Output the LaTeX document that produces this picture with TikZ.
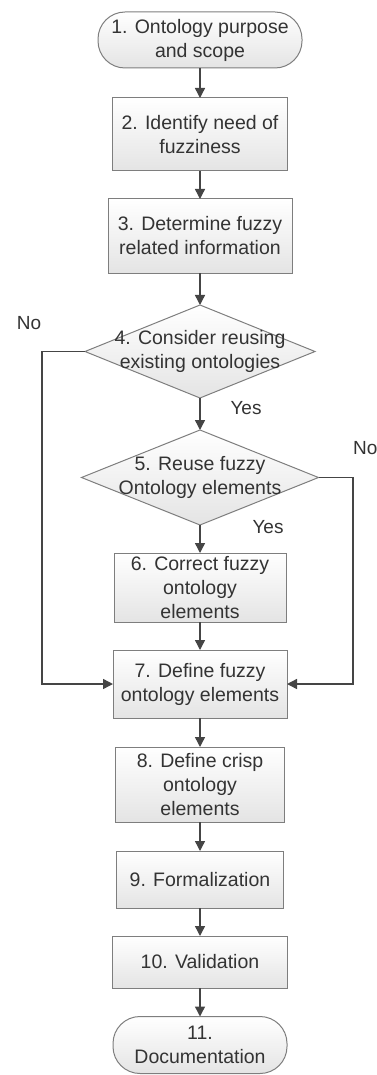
\documentclass[tikz,border=0pt]{standalone}
\usepackage{fontspec}
\setmainfont{Liberation Sans}
\usetikzlibrary{shapes.geometric,arrows.meta}
\definecolor{bordc}{HTML}{7E7E7E}
\definecolor{fillb}{HTML}{E4E4E4}
\definecolor{txtc}{HTML}{333333}
\definecolor{arrc}{HTML}{454545}
\tikzset{
  base/.style={draw=bordc, line width=1pt, top color=white, bottom color=fillb, inner sep=0pt, outer sep=0pt},
  stepbox/.style={base, rectangle},
  term/.style={base, rectangle, rounded corners=27pt},
  dia/.style={base, diamond},
  txt/.style={text=txtc, font=\fontsize{19.5pt}{24pt}\selectfont, align=center, inner sep=0pt},
  lbl/.style={text=txtc, font=\fontsize{19pt}{23pt}\selectfont, inner sep=0pt},
  arr/.style={draw=arrc, line width=1.4pt, -{Triangle[length=10pt,width=10pt]}},
}
\begin{document}
\begin{tikzpicture}[x=1pt,y=-1pt]
\useasboundingbox (0,0) rectangle (376,1075);
\node[term, minimum width=204, minimum height=56] (n1) at (200,40) {};
\node[txt] at (n1) {1. Ontology purpose\\and scope};
\node[stepbox, minimum width=175, minimum height=73] (n2) at (200,134.5) {};
\node[txt] at (n2) {2. Identify need of\\fuzziness};
\node[stepbox, minimum width=184, minimum height=74] (n3) at (200,236) {};
\node[txt] at (n3) {3. Determine fuzzy\\related information};
\node[dia, minimum width=230, minimum height=93] (d4) at (200,351.5) {};
\node[txt] at (d4) {4. Consider reusing\\existing ontologies};
\node[dia, minimum width=237, minimum height=95] (d5) at (200,477.5) {};
\node[txt] at (d5) {5. Reuse fuzzy\\Ontology elements};
\node[stepbox, minimum width=172, minimum height=69] (n6) at (200,587.5) {};
\node[txt] at (n6) {6. Correct fuzzy\\ontology\\elements};
\node[stepbox, minimum width=174, minimum height=68] (n7) at (200,684) {};
\node[txt] at (n7) {7. Define fuzzy\\ontology elements};
\node[stepbox, minimum width=169, minimum height=75] (n8) at (200,784.5) {};
\node[txt] at (n8) {8. Define crisp\\ontology\\elements};
\node[stepbox, minimum width=167, minimum height=57] (n9) at (200,879.5) {};
\node[txt] at (n9) {9. Formalization};
\node[stepbox, minimum width=175, minimum height=52] (n10) at (200,962) {};
\node[txt] at (n10) {10. Validation};
\node[term, minimum width=174, minimum height=57] (n11) at (200,1045) {};
\node[txt] at (n11) {11.\\Documentation};

\node[lbl] (no1) at (29,323) {No};
\node[lbl] (yes1) at (246,408) {Yes};
\node[lbl, anchor=west] (no2) at (353,448) {No};
\node[lbl] (yes2) at (268,527) {Yes};

\coordinate (l1) at (42,351.5);
\coordinate (l2) at (42,684);
\coordinate (r1) at (353,477.5);
\coordinate (r2) at (353,684);

\draw[arr] (n1) -- (n2);
\draw[arr] (n2) -- (n3);
\draw[arr] (n3) -- (d4);
\draw[arr] (d4) -- (d5);
\draw[arr] (d5) -- (n6);
\draw[arr] (n6) -- (n7);
\draw[arr] (n7) -- (n8);
\draw[arr] (n8) -- (n9);
\draw[arr] (n9) -- (n10);
\draw[arr] (n10) -- (n11);
\draw[arr] (d4.west) -- (l1) -- (l2) -- (n7.west);
\draw[arr] (d5.east) -- (r1) -- (r2) -- (n7.east);
\end{tikzpicture}
\end{document}
